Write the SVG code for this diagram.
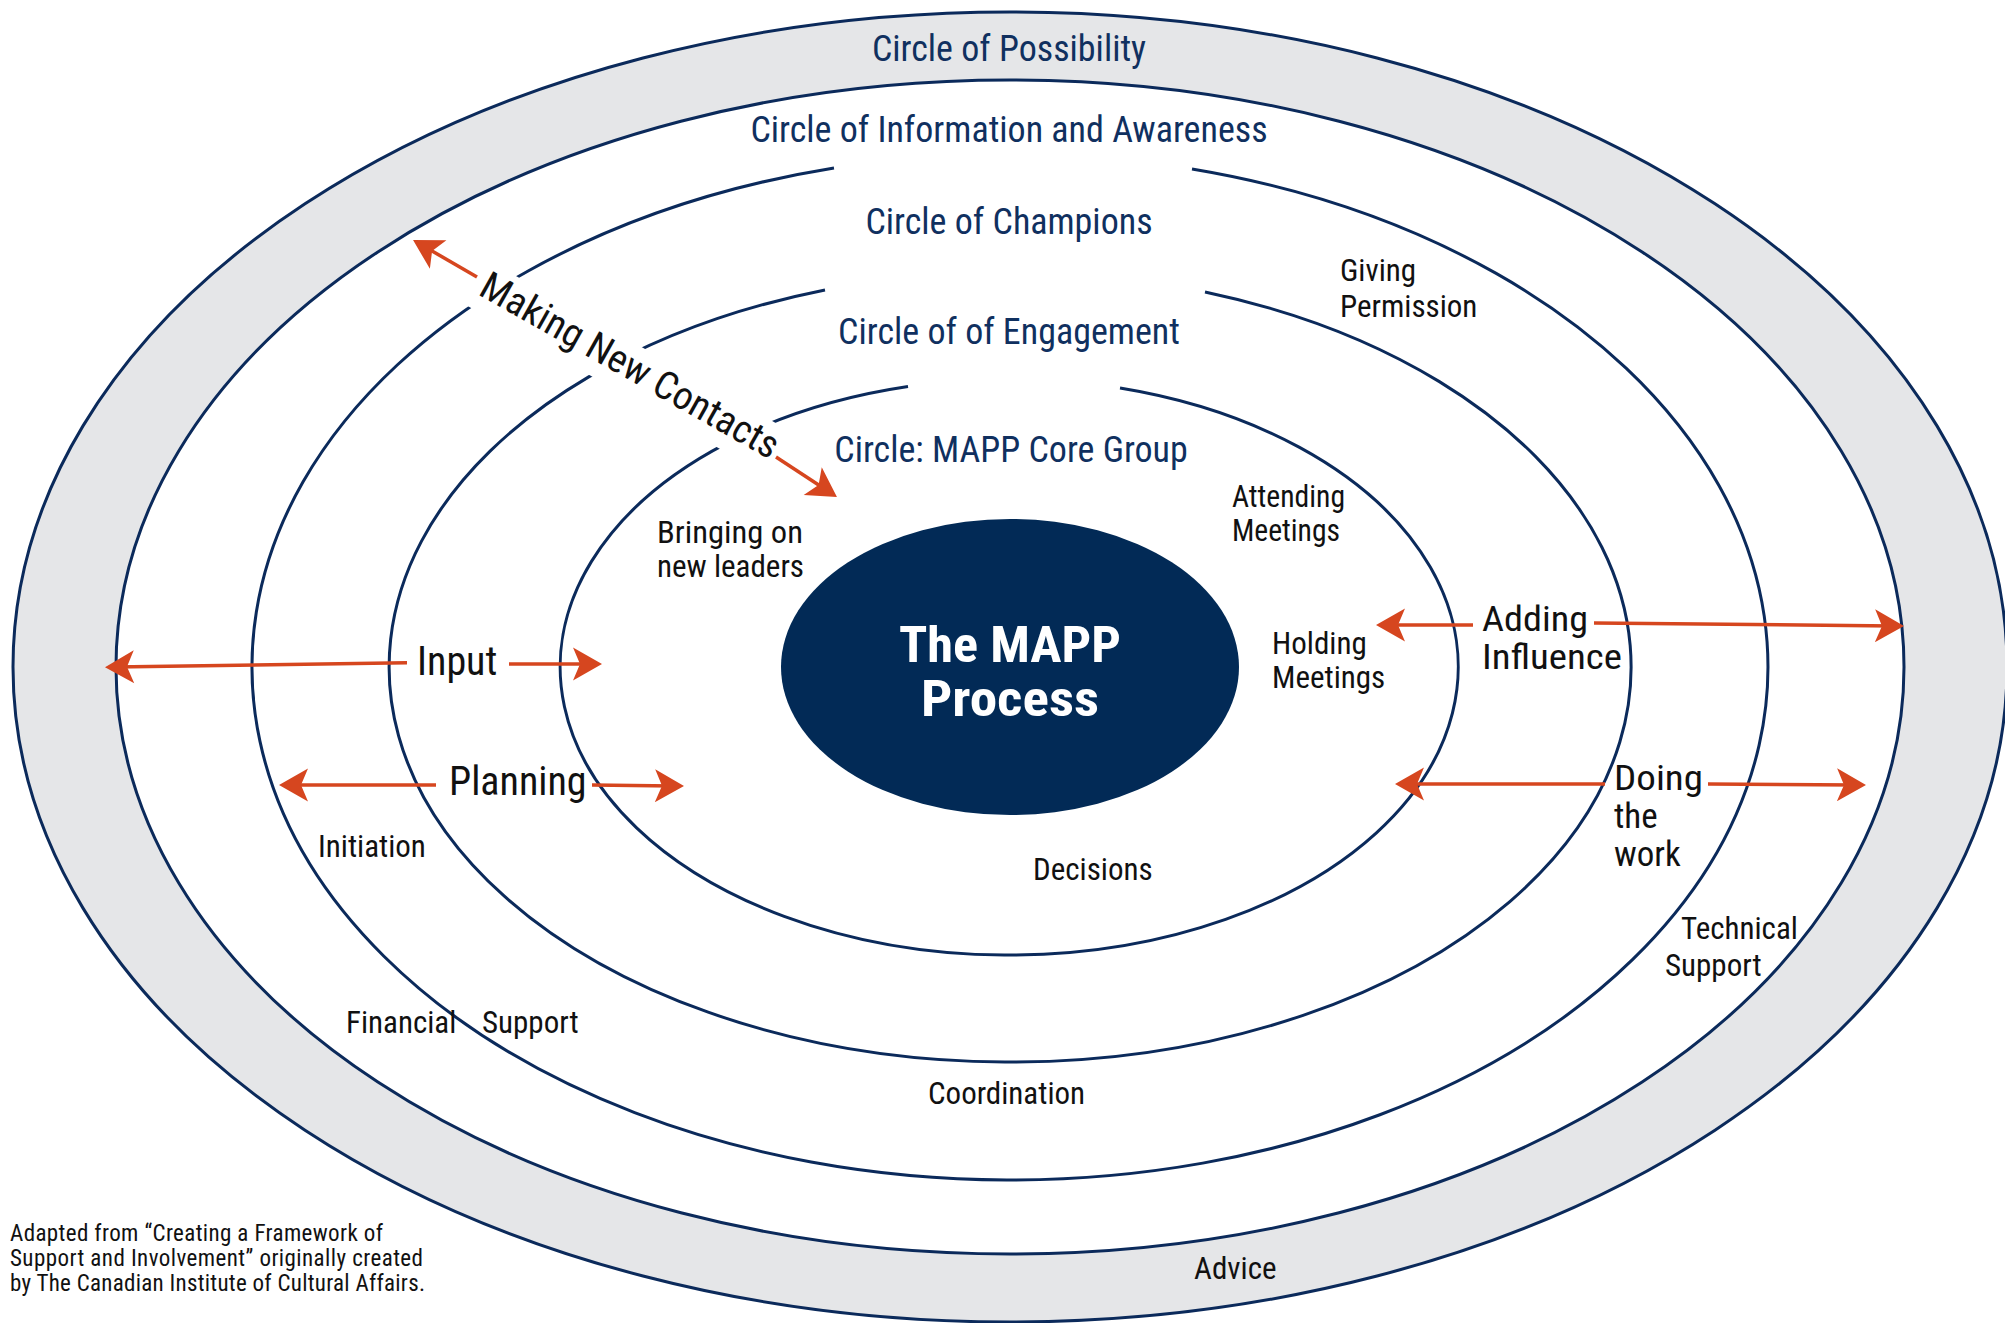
<svg xmlns="http://www.w3.org/2000/svg" width="2005" height="1323" viewBox="0 0 2005 1323">
<defs>
<style>
.ring{fill:none;stroke:#0b2a5b;stroke-width:3}
.t{font-family:"Liberation Sans Narrow","Roboto Condensed","DejaVu Sans Condensed",sans-serif;fill:#111}
.c{font-size:36px;fill:#10305f;text-anchor:middle}
.b{font-size:31px}
.a{font-size:40px}
.a2{font-size:35px}
.f{font-size:23px}
.w{font-size:50px;font-weight:bold;fill:#fff;text-anchor:middle}
.arr{fill:none;stroke:#d6461f;stroke-width:3.5;marker-end:url(#ah)}
</style>
<marker id="ah" markerUnits="userSpaceOnUse" orient="auto" overflow="visible" refX="0" refY="0" markerWidth="1" markerHeight="1">
<path d="M10,0 L-19,-16.5 L-12,0 L-19,16.5 Z" fill="#d6461f"/>
</marker>
</defs>
<rect width="2005" height="1323" fill="#fff"/>
<g id="ring-possibility">
<ellipse cx="1010" cy="667" rx="997" ry="655" fill="#e5e6e8" stroke="#0b2a5b" stroke-width="3"/>
</g>
<g id="ring-information">
<ellipse cx="1010" cy="667" rx="894" ry="587" fill="#fff" stroke="#0b2a5b" stroke-width="3"/>
</g>
<g id="ring-champions">
<path class="ring" d="M1192,169 A758,513 0 1 1 834,168"/>
</g>
<g id="ring-engagement">
<path class="ring" d="M1205,292 A621,395 0 1 1 825,290"/>
</g>
<g id="ring-core">
<path class="ring" d="M1120,388 A449,288 0 1 1 908,386.5"/>
</g>
<g id="mapp-process">
<ellipse cx="1010" cy="667" rx="229" ry="148" fill="#022a56"/>
<text class="t w" x="1010" y="662" textLength="222" lengthAdjust="spacingAndGlyphs">The MAPP</text>
<text class="t w" x="1010" y="716" textLength="178" lengthAdjust="spacingAndGlyphs">Process</text>
</g>
<g id="making-new-contacts">
<rect x="-4" y="-35" width="342" height="50" fill="#fff" transform="translate(476.7,294) rotate(29.5)"/>
<text class="t" font-size="39" transform="translate(477,294) rotate(29.5)">Making New Contacts</text>
</g>
<g id="connectors">
<line class="arr" x1="407" y1="662.7" x2="115" y2="667"/>
<line class="arr" x1="509" y1="664" x2="592" y2="664"/>
<line class="arr" x1="436" y1="785" x2="289" y2="785"/>
<line class="arr" x1="592" y1="785" x2="674" y2="786"/>
<line class="arr" x1="1473" y1="625" x2="1386" y2="625"/>
<line class="arr" x1="1594" y1="623" x2="1894" y2="626"/>
<line class="arr" x1="1605" y1="784" x2="1405" y2="784"/>
<line class="arr" x1="1708" y1="784" x2="1856" y2="785"/>
<line class="arr" x1="477" y1="277" x2="421.7" y2="245"/>
<line class="arr" x1="776" y1="457" x2="828.6" y2="491.5"/>
</g>
<g id="labels">
<text class="t c" x="1009" y="61">Circle of Possibility</text>
<text class="t c" x="1009" y="142">Circle of Information and Awareness</text>
<text class="t c" x="1009" y="234">Circle of Champions</text>
<text class="t c" x="1009" y="344">Circle of of Engagement</text>
<text class="t c" x="1011" y="462">Circle: MAPP Core Group</text>
<text class="t b" x="657" y="543" textLength="146" lengthAdjust="spacingAndGlyphs">Bringing on</text>
<text class="t b" x="657" y="577" textLength="147" lengthAdjust="spacingAndGlyphs">new leaders</text>
<text class="t b" x="1232" y="507" textLength="113" lengthAdjust="spacingAndGlyphs">Attending</text>
<text class="t b" x="1232" y="541" textLength="108" lengthAdjust="spacingAndGlyphs">Meetings</text>
<text class="t b" x="1272" y="654">Holding</text>
<text class="t b" x="1272" y="688">Meetings</text>
<text class="t b" x="1340" y="281">Giving</text>
<text class="t b" x="1340" y="317">Permission</text>
<text class="t b" x="318" y="857">Initiation</text>
<text class="t b" x="1033" y="880">Decisions</text>
<text class="t b" x="346" y="1033">Financial</text>
<text class="t b" x="482" y="1033">Support</text>
<text class="t b" x="928" y="1104">Coordination</text>
<text class="t b" x="1681" y="939">Technical</text>
<text class="t b" x="1665" y="976">Support</text>
<text class="t b" x="1194" y="1279">Advice</text>
<text class="t a" x="417" y="675">Input</text>
<text class="t a" x="449" y="795">Planning</text>
<text class="t a2" x="1482" y="631" textLength="106" lengthAdjust="spacingAndGlyphs">Adding</text>
<text class="t a2" x="1482" y="669" textLength="140" lengthAdjust="spacingAndGlyphs">Influence</text>
<text class="t a2" x="1614" y="790" textLength="89" lengthAdjust="spacingAndGlyphs">Doing</text>
<text class="t a2" x="1614" y="828">the</text>
<text class="t a2" x="1614" y="866">work</text>
<text class="t f" x="10" y="1241" textLength="373">Adapted from “Creating a Framework of</text>
<text class="t f" x="10" y="1266" textLength="413">Support and Involvement” originally created</text>
<text class="t f" x="10" y="1291" textLength="415">by The Canadian Institute of Cultural Affairs.</text>
</g>
</svg>
